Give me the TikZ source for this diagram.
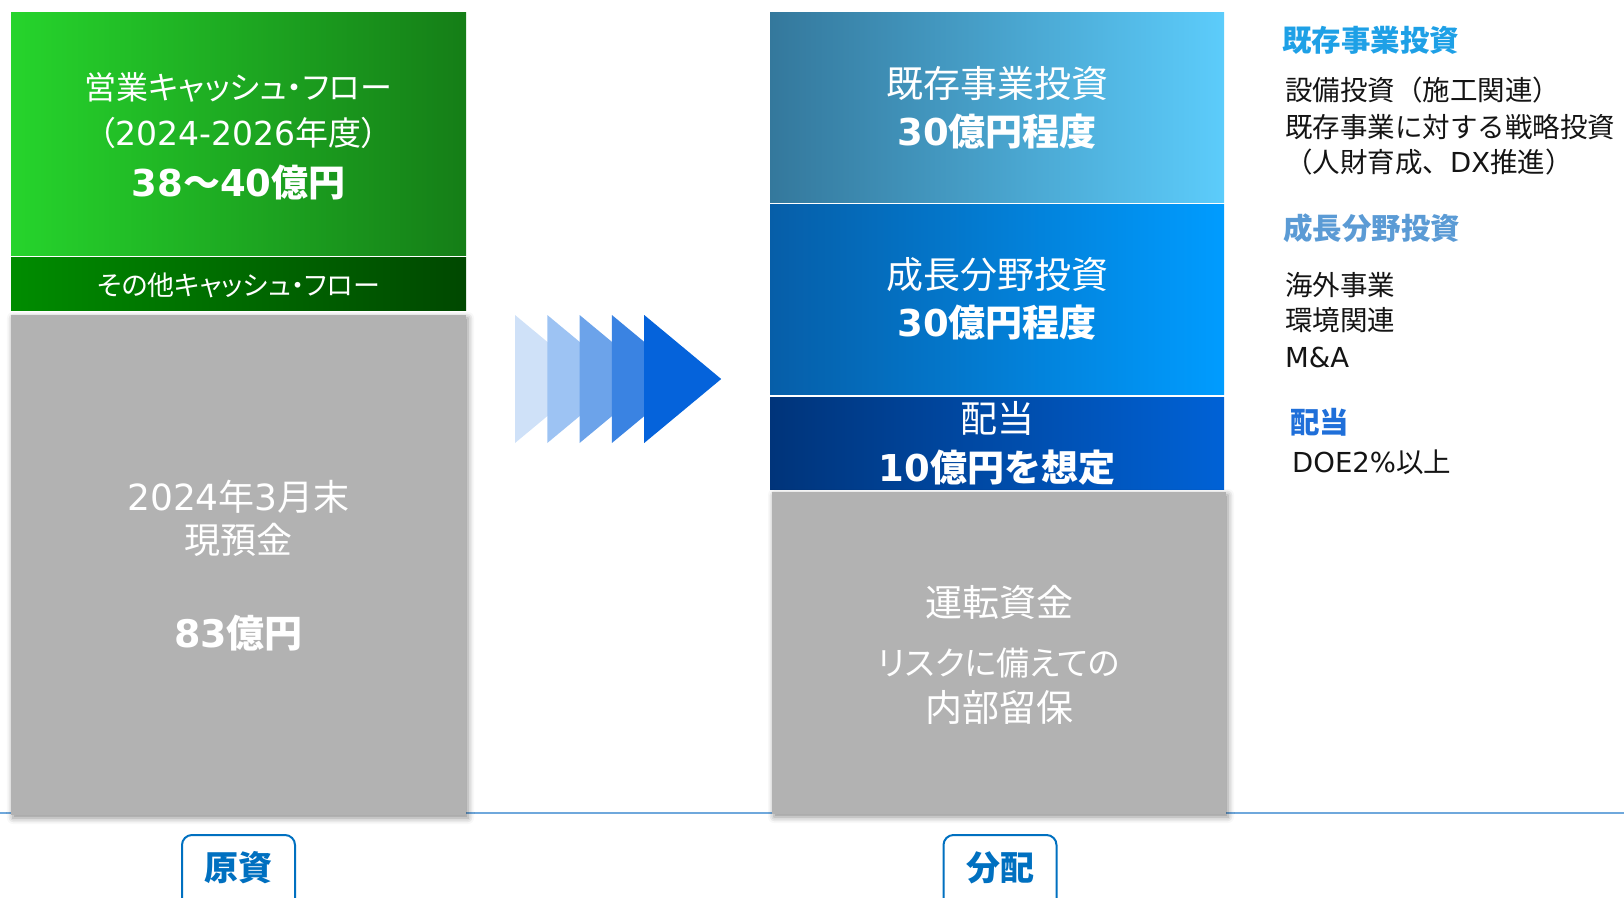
\documentclass[tikz,border=0pt]{standalone}
\usepackage{fontspec}
\setmainfont{Noto Sans CJK JP}
\newfontfamily\jpp{Noto Sans CJK JP}[RawFeature=+palt]
\newfontfamily\dv{DejaVu Sans}
\usetikzlibrary{shadows.blur}
\definecolor{gA}{RGB}{38,212,44}
\definecolor{gB}{RGB}{21,126,23}
\definecolor{dgA}{RGB}{0,140,0}
\definecolor{dgB}{RGB}{0,72,0}
\definecolor{b1A}{RGB}{52,120,156}
\definecolor{b1B}{RGB}{92,204,251}
\definecolor{b2A}{RGB}{6,94,168}
\definecolor{b2B}{RGB}{0,156,255}
\definecolor{b3A}{RGB}{0,52,122}
\definecolor{b3B}{RGB}{0,98,214}
\definecolor{grayBox}{RGB}{178,178,178}
\definecolor{ch1}{RGB}{207,225,248}
\definecolor{ch2}{RGB}{157,195,243}
\definecolor{ch3}{RGB}{108,163,234}
\definecolor{ch4}{RGB}{58,131,226}
\definecolor{ch5}{RGB}{5,99,219}
\definecolor{hd1}{RGB}{30,160,230}
\definecolor{hd2}{RGB}{91,155,213}
\definecolor{hd3}{RGB}{31,111,217}
\definecolor{lab}{RGB}{0,112,192}
\definecolor{lineblue}{RGB}{111,168,220}
\definecolor{bodytxt}{RGB}{20,20,20}
\tikzset{
  panel/.style={draw=none, inner sep=0pt, shading angle=90},
  graypanel/.style={fill=grayBox, draw=none, inner sep=0pt,
    blur shadow={shadow xshift=2pt, shadow yshift=-3pt, shadow blur radius=6pt, shadow opacity=45}},
  wtxt/.style={text=white, inner sep=0pt, anchor=center},
  headtxt/.style={font=\bfseries\fontsize{29.5}{33}\selectfont, inner sep=0pt, anchor=west},
  bodytext/.style={text=bodytxt, font=\fontsize{27.5}{31}\selectfont, inner sep=0pt, anchor=west},
  labelbox/.style={draw=lab, line width=2pt, rounded corners=10pt, fill=white,
    minimum width=113pt, minimum height=90pt, anchor=north, inner sep=0pt},
}
\begin{document}
\begin{tikzpicture}[x=1pt,y=-1pt]
\useasboundingbox (0,0) rectangle (1624,897);
\clip (0,0) rectangle (1624,897);
% baseline
\draw[lineblue, line width=1.5pt] (0,813) -- (1624,813);
% left column
\node[panel, left color=gA, right color=gB, minimum width=455pt, minimum height=243pt] (cfo) at (238.5,133.5) {};
\node[panel, left color=dgA, right color=dgB, minimum width=455pt, minimum height=53pt] (cfx) at (238.5,283.5) {};
\node[graypanel, minimum width=455pt, minimum height=500pt] (cash) at (238.5,565) {};
\node[wtxt, font=\jpp\fontsize{32}{36}\selectfont] (t1) at (238.5,87) {営業キャッシュ・フロー};
\node[wtxt, font=\jpp\fontsize{33}{37}\selectfont] (t2) at (238.5,133) {（{\dv 2024-2026}年度）};
\node[wtxt, font=\bfseries\fontsize{37}{41}\selectfont] (t3) at (238.5,182) {{\dv 38}～{\dv 40}億円};
\node[wtxt, font=\jpp\fontsize{27}{31}\selectfont] (t4) at (238.5,285) {その他キャッシュ・フロー};
\node[wtxt, font=\fontsize{36}{40}\selectfont] (t5) at (238.5,497) {{\dv 2024}年{\dv 3}月末};
\node[wtxt, font=\fontsize{36}{40}\selectfont] (t6) at (238.5,540) {現預金};
\node[wtxt, font=\bfseries\fontsize{38}{42}\selectfont] (t7) at (238.5,633) {{\dv 83}億円};
% chevrons
\foreach \i/\c in {0/ch1,1/ch2,2/ch3,3/ch4,4/ch5}{
  \fill[\c] ({515+32.3*\i},315) -- ({592+32.3*\i},379) -- ({515+32.3*\i},443) -- cycle;
}
% right column
\node[panel, left color=b1A, right color=b1B, minimum width=454pt, minimum height=190pt] (inv1) at (997,107) {};
\node[panel, left color=b2A, right color=b2B, minimum width=454pt, minimum height=190pt] (inv2) at (997,299) {};
\node[panel, left color=b3A, right color=b3B, minimum width=454pt, minimum height=92pt] (div) at (997,443) {};
\node[graypanel, minimum width=454pt, minimum height=322pt] (wc) at (999,653) {};
\node[wtxt, font=\fontsize{37}{41}\selectfont] (r1) at (997,83) {既存事業投資};
\node[wtxt, font=\bfseries\fontsize{37}{41}\selectfont] (r2) at (997,132) {{\dv 30}億円程度};
\node[wtxt, font=\fontsize{37}{41}\selectfont] (r3) at (997,275) {成長分野投資};
\node[wtxt, font=\bfseries\fontsize{37}{41}\selectfont] (r4) at (997,323) {{\dv 30}億円程度};
\node[wtxt, font=\fontsize{37}{41}\selectfont] (r5) at (997,418) {配当};
\node[wtxt, font=\bfseries\fontsize{37}{41}\selectfont] (r6) at (997,468) {{\dv 10}億円を想定};
\node[wtxt, font=\fontsize{37}{41}\selectfont] (r7) at (999,602) {運転資金};
\node[wtxt, font=\jpp\fontsize{33}{37}\selectfont] (r8) at (999,663) {リスクに備えての};
\node[wtxt, font=\fontsize{37}{41}\selectfont] (r9) at (999,707) {内部留保};
% right notes
\node[headtxt, text=hd1] (h1) at (1282,40) {既存事業投資};
\node[bodytext] (n1) at (1285,90) {設備投資（施工関連）};
\node[bodytext] (n2) at (1285,127) {既存事業に対する戦略投資};
\node[bodytext] (n3) at (1285,162) {（人財育成、{\dv DX}推進）};
\node[headtxt, text=hd2] (h2) at (1283,228) {成長分野投資};
\node[bodytext] (n4) at (1285,285) {海外事業};
\node[bodytext] (n5) at (1285,320) {環境関連};
\node[bodytext] (n6) at (1285,357) {{\dv M\&A}};
\node[headtxt, text=hd3] (h3) at (1290,422) {配当};
\node[bodytext] (n7) at (1292,462) {{\dv DOE2\%}以上};
% bottom labels
\node[labelbox] (lb1) at (238.5,834) {};
\node[text=lab, font=\bfseries\fontsize{34}{38}\selectfont, inner sep=0pt] (lt1) at (238.5,868) {原資};
\node[labelbox] (lb2) at (1000,834) {};
\node[text=lab, font=\bfseries\fontsize{34}{38}\selectfont, inner sep=0pt] (lt2) at (1000,868) {分配};
\end{tikzpicture}
\end{document}
